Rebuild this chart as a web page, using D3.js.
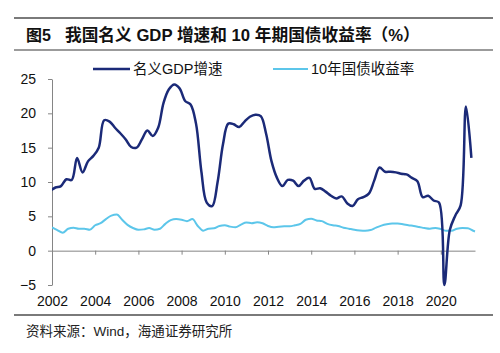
<!DOCTYPE html>
<html>
<head>
<meta charset="utf-8">
<script src="https://cdn.jsdelivr.net/npm/d3@7"></script>
<style>
  body { margin: 0; background: #fff; }
  svg { display: block; }
  text { font-family: "Liberation Sans", Arial, "Noto Sans CJK SC", sans-serif; }
  .cjk { font-family: "Liberation Sans", Arial, "Noto Sans CJK SC", sans-serif; }
  .axis path, .axis line { stroke: #858585; stroke-width: 1; }
  .axis text { font-size: 14px; fill: #111; }
</style>
</head>
<body>
<script>
// 名义GDP增速 (单季同比, %), 季末月份
var gdpMonths = ["2001-12",
  "2002-03","2002-06","2002-09","2002-12",
  "2003-03","2003-06","2003-09","2003-12",
  "2004-03","2004-06","2004-09","2004-12",
  "2005-03","2005-06","2005-09","2005-12",
  "2006-03","2006-06","2006-09","2006-12",
  "2007-03","2007-06","2007-09","2007-12",
  "2008-03","2008-06","2008-09","2008-12",
  "2009-03","2009-06","2009-09","2009-12",
  "2010-03","2010-06","2010-09","2010-12",
  "2011-03","2011-06","2011-09","2011-12",
  "2012-03","2012-06","2012-09","2012-12",
  "2013-03","2013-06","2013-09","2013-12",
  "2014-03","2014-06","2014-09","2014-12",
  "2015-03","2015-06","2015-09","2015-12",
  "2016-03","2016-06","2016-09","2016-12",
  "2017-03","2017-06","2017-09","2017-12",
  "2018-03","2018-06","2018-09","2018-12",
  "2019-03","2019-06","2019-09","2019-12",
  "2020-03","2020-06","2020-09","2020-12",
  "2021-03","2021-06"];
var gdpValues = [8.7,
  9.2, 9.4, 10.4, 10.3,
  13.5, 11.4, 13.0, 13.8,
  15.0, 19.0, 18.8, 17.9,
  17.1, 16.2, 15.1, 15.0,
  16.2, 17.5, 16.7, 17.9,
  21.5, 23.5, 24.2, 23.6,
  21.8, 21.3, 18.5, 11.5,
  7.0, 6.5, 10.0, 15.5,
  18.5, 18.4, 18.0, 18.8,
  19.5, 19.8, 19.6, 17.0,
  13.0, 10.6, 9.4, 10.3,
  10.2, 9.4, 10.2, 10.6,
  9.0, 9.1, 8.6, 8.0,
  7.6, 7.9, 6.9, 6.5,
  7.5, 7.8, 8.3, 10.2,
  12.1, 11.5, 11.5, 11.4,
  11.2, 11.1, 10.6, 10.1,
  7.8, 8.0, 7.3, 7.0,
  -5.0, 3.0, 5.1, 6.6,
  21.0, 13.5];

// 10年国债收益率 (%)
var bondMonths = [
  "2002-01","2002-04","2002-07","2002-10",
  "2003-01","2003-04","2003-07","2003-10",
  "2004-01","2004-04","2004-07","2004-10",
  "2005-01","2005-04","2005-07","2005-10",
  "2006-01","2006-04","2006-07","2006-10",
  "2007-01","2007-04","2007-07","2007-10",
  "2008-01","2008-04","2008-07","2008-10",
  "2009-01","2009-04","2009-07","2009-10",
  "2010-01","2010-04","2010-07","2010-10",
  "2011-01","2011-04","2011-07","2011-10",
  "2012-01","2012-04","2012-07","2012-10",
  "2013-01","2013-04","2013-07","2013-10",
  "2014-01","2014-04","2014-07","2014-10",
  "2015-01","2015-04","2015-07","2015-10",
  "2016-01","2016-04","2016-07","2016-10",
  "2017-01","2017-04","2017-07","2017-10",
  "2018-01","2018-04","2018-07","2018-10",
  "2019-01","2019-04","2019-07","2019-10",
  "2020-01","2020-04","2020-07","2020-10",
  "2021-01","2021-04","2021-07","2021-08"];
var bondValues = [
  3.4, 3.0, 2.6, 3.2,
  3.35, 3.2, 3.2, 3.05,
  3.7, 4.0, 4.6, 5.1,
  5.25, 4.5, 3.75, 3.3,
  3.05, 3.1, 3.3, 3.05,
  3.2, 3.9, 4.45, 4.6,
  4.5, 4.3, 4.6, 3.6,
  2.9, 3.2, 3.25, 3.6,
  3.7, 3.5, 3.4, 3.8,
  4.1, 4.0, 4.15, 4.0,
  3.6, 3.4, 3.5, 3.55,
  3.55, 3.7, 3.9, 4.5,
  4.65, 4.4, 4.3, 3.9,
  3.7, 3.6, 3.35, 3.2,
  3.05, 2.95, 2.9, 3.0,
  3.35, 3.65, 3.85, 3.95,
  3.95, 3.85, 3.7, 3.6,
  3.45, 3.3, 3.2, 3.3,
  3.15, 2.9, 2.9, 3.2,
  3.3, 3.25, 2.9, 2.8];

var xTickYears = [2002, 2004, 2006, 2008, 2010, 2012, 2014, 2016, 2018, 2020];
var yTicks = [-5, 0, 5, 10, 15, 20, 25];
var seriesNames = ["名义GDP增速", "10年国债收益率"];

var parseMonth = d3.timeParse("%Y-%m");

var svg = d3.select("body").append("svg").attr("width", 500).attr("height", 353);

var plot = {left: 52, right: 475, top: 79, bottom: 285};

var x = d3.scaleTime()
    .domain([new Date(2002, 0, 1), new Date(2021, 7, 1)])
    .range([plot.left, plot.right]);
var y = d3.scaleLinear().domain([-5, 25]).range([plot.bottom, plot.top]);

// header rules + title
svg.append("line").attr("x1", 14).attr("x2", 493).attr("y1", 18).attr("y2", 18)
  .attr("stroke", "#7a7a7a").attr("stroke-width", 2);
svg.append("line").attr("x1", 14).attr("x2", 493).attr("y1", 50).attr("y2", 50)
  .attr("stroke", "#7a7a7a").attr("stroke-width", 1.5);
svg.append("text").attr("class", "cjk").attr("x", 26).attr("y", 35)
  .attr("dominant-baseline", "central").attr("font-size", 16).attr("font-weight", "bold")
  .attr("fill", "#111").text("图5");
svg.append("text").attr("class", "cjk").attr("x", 65).attr("y", 35)
  .attr("dominant-baseline", "central").attr("font-size", 16.7).attr("font-weight", "bold")
  .attr("fill", "#111").text("我国名义 GDP 增速和 10 年期国债收益率（%）");

// axes
var yAxis = svg.append("g").attr("class", "axis")
  .attr("transform", "translate(" + plot.left + ",0)")
  .call(d3.axisLeft(y).tickValues(yTicks).tickSize(4).tickSizeOuter(0).tickPadding(12));

var xAxis = svg.append("g").attr("class", "axis")
  .attr("transform", "translate(0," + y(0) + ")")
  .call(d3.axisBottom(x)
    .tickValues(xTickYears.map(function(d) { return new Date(d, 0, 1); }))
    .tickFormat(d3.timeFormat("%Y"))
    .tickSize(4).tickSizeOuter(0).tickPadding(41));

// clip
svg.append("clipPath").attr("id", "clip").append("rect")
  .attr("x", plot.left).attr("y", 60).attr("width", 430).attr("height", 235);

var gdpData = gdpMonths.map(function(m, i) { return {d: parseMonth(m), v: gdpValues[i]}; });
var bondData = bondMonths.map(function(m, i) { return {d: parseMonth(m), v: bondValues[i]}; });

var g = svg.append("g").attr("clip-path", "url(#clip)");

g.append("path").datum(bondData)
  .attr("fill", "none").attr("stroke", "#5cc6ea").attr("stroke-width", 2)
  .attr("d", d3.line().x(function(d) { return x(d.d); }).y(function(d) { return y(d.v); })
    .curve(d3.curveMonotoneX));

g.append("path").datum(gdpData)
  .attr("fill", "none").attr("stroke", "#1b2a78").attr("stroke-width", 2.5)
  .attr("stroke-linejoin", "round")
  .attr("d", d3.line().x(function(d) { return x(d.d); }).y(function(d) { return y(d.v); })
    .curve(d3.curveCatmullRom.alpha(0.5)));

// legend
var legend = [
  {name: seriesNames[0], color: "#1b2a78", w: 2.5, x1: 93, x2: 130},
  {name: seriesNames[1], color: "#5cc6ea", w: 2, x1: 273, x2: 308}
];
legend.forEach(function(l) {
  svg.append("line").attr("x1", l.x1).attr("x2", l.x2).attr("y1", 69).attr("y2", 69)
    .attr("stroke", l.color).attr("stroke-width", l.w);
  svg.append("text").attr("class", "cjk").attr("x", l.x2 + 3).attr("y", 69)
    .attr("dominant-baseline", "central").attr("font-size", 14.5).attr("fill", "#111")
    .text(l.name);
});

// footer
svg.append("line").attr("x1", 14).attr("x2", 493).attr("y1", 315).attr("y2", 315)
  .attr("stroke", "#7a7a7a").attr("stroke-width", 2);
svg.append("text").attr("class", "cjk").attr("x", 26).attr("y", 331.5)
  .attr("dominant-baseline", "central").attr("font-size", 13.5).attr("fill", "#222")
  .text("资料来源：Wind，海通证券研究所");
</script>
</body>
</html>
